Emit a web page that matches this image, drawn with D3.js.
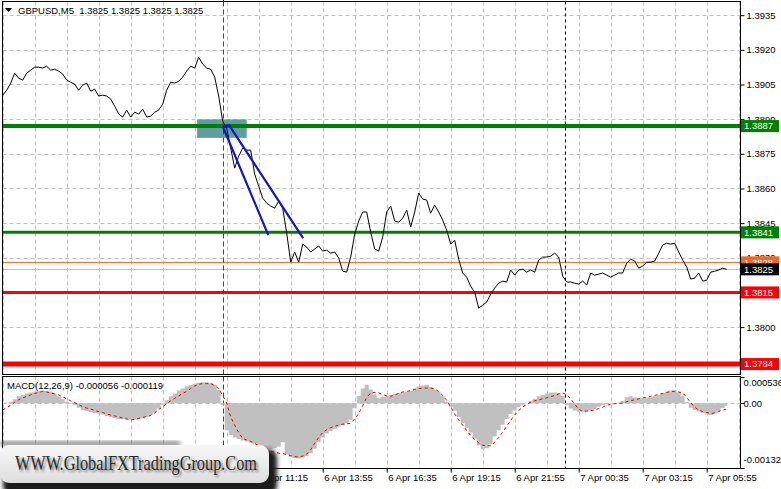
<!DOCTYPE html>
<html><head><meta charset="utf-8">
<script src="https://cdn.jsdelivr.net/npm/d3@7"></script>
<style>
html,body{margin:0;padding:0;background:#fff;}
svg{display:block;font-family:"Liberation Sans",Arial,sans-serif;}
</style></head><body>
<svg id="chart" width="781" height="489"></svg>
<script>
// ---------------- DATA ----------------
const symbolTitle = "GBPUSD,M5";
const lastQuote = [1.3825, 1.3825, 1.3825, 1.3825];
const seriesStart = "2021-04-06T00:35:00Z";
const stepMinutes = 10;
const closes = [
1.39004,1.39025,1.39056,1.39099,1.39077,1.39069,1.39099,1.39112,1.39125,1.39125,
1.39121,1.39129,1.39112,1.39116,1.39108,1.39095,1.39069,1.39060,1.39051,1.39025,
1.39047,1.39056,1.39021,1.39030,1.39000,1.39004,1.39000,1.38987,1.38956,1.38922,
1.38909,1.38939,1.38909,1.38930,1.38922,1.38943,1.38909,1.38913,1.38930,1.38939,
1.38965,1.39025,1.39060,1.39056,1.39064,1.39082,1.39108,1.39129,1.39121,1.39168,
1.39138,1.39121,1.39116,1.39082,1.39000,1.38891,1.38861,1.38775,1.38688,1.38740,
1.38775,1.38766,1.38766,1.38662,1.38610,1.38558,1.38537,1.38524,1.38515,1.38545,
1.38515,1.38407,1.38281,1.38325,1.38281,1.38359,1.38346,1.38325,1.38338,1.38351,
1.38329,1.38333,1.38320,1.38325,1.38299,1.38242,1.38238,1.38303,1.38402,1.38459,
1.38498,1.38498,1.38411,1.38338,1.38329,1.38389,1.38498,1.38524,1.38459,1.38454,
1.38472,1.38506,1.38433,1.38498,1.38580,1.38554,1.38550,1.38493,1.38528,1.38498,
1.38463,1.38420,1.38359,1.38376,1.38294,1.38234,1.38216,1.38177,1.38151,1.38082,
1.38095,1.38108,1.38143,1.38169,1.38190,1.38199,1.38195,1.38247,1.38225,1.38247,
1.38251,1.38238,1.38247,1.38238,1.38290,1.38303,1.38303,1.38307,1.38320,1.38303,
1.38221,1.38195,1.38195,1.38190,1.38186,1.38199,1.38182,1.38234,1.38225,1.38229,
1.38234,1.38225,1.38216,1.38225,1.38234,1.38234,1.38277,1.38294,1.38286,1.38255,
1.38264,1.38281,1.38281,1.38286,1.38320,1.38355,1.38363,1.38359,1.38363,1.38325,
1.38290,1.38260,1.38208,1.38212,1.38234,1.38199,1.38203,1.38238,1.38242,1.38247,
1.38255,1.38250];
// MACD main (histogram) and signal, in units of 0.001
const macdMainMilli = [
0.00,0.01,0.03,0.08,0.14,0.17,0.20,0.22,0.24,0.25,
0.26,0.25,0.24,0.20,0.14,0.08,0.03,-0.01,-0.04,-0.09,
-0.14,-0.16,-0.18,-0.20,-0.21,-0.23,-0.26,-0.28,-0.30,-0.32,
-0.33,-0.34,-0.34,-0.34,-0.33,-0.31,-0.28,-0.24,-0.19,-0.11,
-0.03,0.06,0.14,0.20,0.26,0.30,0.34,0.37,0.40,0.42,
0.43,0.43,0.42,0.38,0.27,-0.03,-0.55,-0.65,-0.70,-0.73,
-0.76,-0.78,-0.81,-0.84,-0.87,-0.90,-0.93,-0.93,-0.92,-0.89,
-0.80,-1.05,-1.10,-1.12,-1.13,-1.11,-1.08,-1.02,-0.93,-0.80,
-0.70,-0.62,-0.57,-0.52,-0.48,-0.45,-0.41,-0.34,-0.10,0.15,
0.30,0.38,0.28,0.18,0.10,0.12,0.14,0.17,0.19,0.21,
0.22,0.23,0.25,0.30,0.34,0.36,0.38,0.33,0.28,0.24,
0.14,0.03,-0.07,-0.15,-0.28,-0.41,-0.50,-0.60,-0.72,-0.86,
-0.94,-0.92,-0.84,-0.68,-0.55,-0.44,-0.32,-0.22,-0.15,-0.08,
-0.03,0.01,0.05,0.09,0.14,0.17,0.20,0.22,0.22,0.21,
0.15,-0.04,-0.11,-0.15,-0.17,-0.17,-0.17,-0.15,-0.12,-0.07,
-0.04,-0.01,0.00,0.00,0.01,0.05,0.12,0.14,0.12,0.10,
0.10,0.11,0.12,0.14,0.17,0.21,0.24,0.26,0.27,0.22,
0.14,0.02,-0.09,-0.14,-0.17,-0.20,-0.23,-0.24,-0.21,-0.17,
-0.10,-0.056];
const macdSignalMilli = [
-0.14,-0.09,-0.04,0.02,0.07,0.11,0.14,0.17,0.20,0.22,
0.24,0.23,0.21,0.19,0.17,0.13,0.09,0.05,0.01,-0.03,
-0.07,-0.10,-0.12,-0.15,-0.17,-0.19,-0.22,-0.24,-0.26,-0.28,
-0.30,-0.32,-0.34,-0.33,-0.31,-0.29,-0.27,-0.25,-0.20,-0.13,
-0.07,-0.01,0.05,0.10,0.15,0.20,0.24,0.30,0.35,0.39,
0.40,0.40,0.40,0.36,0.30,0.16,0.00,-0.28,-0.45,-0.60,
-0.72,-0.75,-0.78,-0.82,-0.87,-0.92,-0.96,-0.98,-1.00,-1.02,
-1.03,-1.05,-1.07,-1.09,-1.10,-1.08,-1.04,-0.95,-0.82,-0.70,
-0.60,-0.54,-0.50,-0.47,-0.45,-0.43,-0.42,-0.41,-0.32,-0.21,
-0.05,0.12,0.21,0.22,0.21,0.18,0.15,0.14,0.17,0.20,
0.23,0.24,0.26,0.28,0.30,0.31,0.31,0.31,0.29,0.24,
0.16,0.06,-0.08,-0.22,-0.34,-0.45,-0.56,-0.66,-0.74,-0.81,
-0.86,-0.87,-0.87,-0.80,-0.70,-0.59,-0.47,-0.35,-0.24,-0.15,
-0.08,-0.02,0.02,0.05,0.07,0.09,0.11,0.13,0.16,0.19,
0.21,0.17,0.09,-0.02,-0.12,-0.17,-0.16,-0.15,-0.14,-0.11,
-0.08,-0.04,-0.02,-0.01,0.00,0.00,0.03,0.05,0.07,0.09,
0.11,0.12,0.14,0.16,0.18,0.20,0.22,0.24,0.24,0.23,
0.21,0.12,0.01,-0.08,-0.14,-0.17,-0.19,-0.21,-0.20,-0.17,
-0.14,-0.119];
const macdLabel = "MACD(12,26,9) -0.000056 -0.000119";
const macdScaleMax = 0.000536;
const macdScaleMin = -0.001324;
const macdTickLabels = ["0.000536", "0.00", "-0.001324"];
const priceMin = 1.37797, priceMax = 1.39407;
const priceTicks = [1.3800,1.3830,1.3845,1.3860,1.3875,1.3890,1.3905,1.3920,1.3935];
const timeTicks = ["2021-04-06T11:15:00Z","2021-04-06T13:55:00Z","2021-04-06T16:35:00Z","2021-04-06T19:15:00Z",
  "2021-04-06T21:55:00Z","2021-04-07T00:35:00Z","2021-04-07T03:15:00Z","2021-04-07T05:55:00Z"];
const gridMinutes = 80;
const levelPrices = [1.3887, 1.3841, 1.3815, 1.3784];
const levelKinds  = ["buyThick", "buyThin", "sellThin", "sellThick"];
const orangePrice = 1.3828;
const bidPrice = 1.3825;
const entryTime = "2021-04-06T09:45:00Z";
const daySeparator = "2021-04-07T00:00:00Z";
const zoneTimes = ["2021-04-06T08:41:00Z", "2021-04-06T10:45:00Z"];
const zonePrices = [1.38819, 1.38899];
const trendTimes = ["2021-04-06T11:39:00Z", "2021-04-06T09:46:00Z", "2021-04-06T10:01:00Z", "2021-04-06T13:06:00Z"];
const trendPrices = [1.38398, 1.38865, 1.38874, 1.38385];
const watermark = "WWW.GlobalFXTradingGroup.Com";

// ---------------- DRAW ----------------
const svg = d3.select("#chart");
const L = 2.5, R = 740.5, mainTop = 1.5, mainBot = 374.5, macdTop = 376.5, macdBot = 468.5;
const t0 = new Date(seriesStart);
const tEnd = new Date(t0.getTime() + 1843.25 * 60000);
const times = closes.map((_, i) => new Date(t0.getTime() + i * stepMinutes * 60000));
const x = d3.scaleUtc().domain([t0, tEnd]).range([2.7, 740]);
const y = d3.scaleLinear().domain([priceMin, priceMax]).range([374, 2]);
const ym = d3.scaleLinear().domain([macdScaleMin, macdScaleMax]).range([468, 377]);
const fmt4 = d3.format(".4f");
const FONT = 9.5;

const defs = svg.append("defs");
defs.append("clipPath").attr("id","clipMain").append("rect").attr("x",L).attr("y",mainTop).attr("width",R-L).attr("height",mainBot-mainTop);
defs.append("clipPath").attr("id","clipMacd").append("rect").attr("x",L).attr("y",macdTop).attr("width",R-L).attr("height",macdBot-macdTop);

svg.append("rect").attr("width",781).attr("height",489).attr("fill","#fff");

const gridTimes = d3.utcMinute.every(1).range(t0, tEnd).filter((d, i) => i % gridMinutes === 0);
const crisp = v => Math.round(v) + 0.5;

const gMain = svg.append("g").attr("clip-path","url(#clipMain)");
const gMacd = svg.append("g").attr("clip-path","url(#clipMacd)");
[[gMain, mainTop, mainBot],[gMacd, macdTop, macdBot]].forEach(([g, a, b]) => {
  g.selectAll(".vg").data(gridTimes).join("line")
    .attr("x1", d => crisp(x(d))).attr("x2", d => crisp(x(d)))
    .attr("y1", a).attr("y2", b)
    .attr("stroke","#c0c0c0").attr("stroke-dasharray","4,3").attr("stroke-width",1);
});
gMain.selectAll(".hg").data(priceTicks.concat([1.3815])).join("line")
  .attr("x1",L).attr("x2",R).attr("y1", d => crisp(y(d))).attr("y2", d => crisp(y(d)))
  .attr("stroke","#c0c0c0").attr("stroke-dasharray","4,3");
gMacd.append("line").attr("x1",L).attr("x2",R).attr("y1",crisp(ym(0))).attr("y2",crisp(ym(0)))
  .attr("stroke","#c0c0c0").attr("stroke-dasharray","4,3");

// entry zone rectangle
gMain.append("rect")
  .attr("x", x(new Date(zoneTimes[0]))).attr("width", x(new Date(zoneTimes[1])) - x(new Date(zoneTimes[0])))
  .attr("y", y(zonePrices[1])).attr("height", y(zonePrices[0]) - y(zonePrices[1]))
  .attr("fill","#5f9ea0");

// levels
const levelStyle = {buyThick:["#008000",4], buyThin:["#008000",3], sellThin:["#ff0000",3], sellThick:["#ff0000",5]};
gMain.append("line").attr("x1",L).attr("x2",R).attr("y1",y(orangePrice)).attr("y2",y(orangePrice))
  .attr("stroke","#f06a2a").attr("stroke-width",1);
gMain.append("line").attr("x1",L).attr("x2",R).attr("y1",crisp(y(bidPrice))).attr("y2",crisp(y(bidPrice)))
  .attr("stroke","#c0c0c0").attr("stroke-width",1);
levelPrices.forEach((p, i) => {
  const [c, w] = levelStyle[levelKinds[i]];
  gMain.append("line").attr("x1",L).attr("x2",R).attr("y1",y(p)).attr("y2",y(p))
    .attr("stroke",c).attr("stroke-width",w);
});

// vertical markers
[[gMain,mainTop,mainBot],[gMacd,macdTop,macdBot]].forEach(([g,a,b]) => {
  g.append("line").attr("x1",crisp(x(new Date(entryTime)))).attr("x2",crisp(x(new Date(entryTime))))
    .attr("y1",a).attr("y2",b).attr("stroke","#e00000").attr("stroke-dasharray","5,3");
  g.append("line").attr("x1",crisp(x(new Date(daySeparator)))).attr("x2",crisp(x(new Date(daySeparator))))
    .attr("y1",a).attr("y2",b).attr("stroke","#000").attr("stroke-dasharray","3,3");
});
svg.append("line").attr("x1",crisp(x(new Date(entryTime)))).attr("x2",crisp(x(new Date(entryTime))))
  .attr("y1",0).attr("y2",mainTop).attr("stroke","#e00000");

// price line
gMain.append("path").datum(closes)
  .attr("d", d3.line().x((d,i) => x(times[i])).y(d => y(d)))
  .attr("fill","none").attr("stroke","#000").attr("stroke-width",1);

// trend lines
gMain.append("path").datum(trendPrices)
  .attr("d", d3.line().x((d,i) => x(new Date(trendTimes[i]))).y(d => y(d)))
  .attr("fill","none").attr("stroke","#1515c8").attr("stroke-width",2.2).attr("stroke-linejoin","round");

// MACD histogram (step area, no gaps between bars)
gMacd.append("path").datum(macdMainMilli)
  .attr("d", d3.area().curve(d3.curveStep).x((d,i) => x(times[i])).y0(ym(0)).y1(d => ym(d/1000)))
  .attr("fill","#c0c0c0");
gMacd.append("path").datum(macdSignalMilli)
  .attr("d", d3.line().x((d,i) => x(times[i])).y(d => ym(d/1000)))
  .attr("fill","none").attr("stroke","#e00000").attr("stroke-width",1).attr("stroke-dasharray","3,3");

// frames
svg.append("rect").attr("x",L).attr("y",mainTop).attr("width",R-L).attr("height",mainBot-mainTop).attr("fill","none").attr("stroke","#000");
svg.append("rect").attr("x",L).attr("y",macdTop).attr("width",R-L).attr("height",macdBot-macdTop).attr("fill","none").attr("stroke","#000");

// price axis
const ax = svg.append("g").attr("transform",`translate(${R},0)`)
  .call(d3.axisRight(y).tickValues(priceTicks).tickFormat(fmt4).tickSize(4).tickPadding(2));
ax.select(".domain").remove();
ax.selectAll("text").attr("font-size",FONT).attr("font-family","Liberation Sans, Arial, sans-serif").attr("fill","#000");
ax.selectAll("line").attr("stroke","#000");

// level labels
function tag(p, bg, fg) {
  const cy = y(p);
  svg.append("rect").attr("x",741).attr("y",cy-6).attr("width",38).attr("height",12).attr("fill",bg);
  svg.append("text").attr("x",744).attr("y",cy).attr("dy","0.35em").attr("font-size",FONT).attr("fill",fg).text(fmt4(p));
}
levelPrices.forEach((p,i) => tag(p, levelStyle[levelKinds[i]][0], "#fff"));
tag(orangePrice, "#f5651e", "#fff");
tag(bidPrice, "#000", "#fff");

// MACD axis
const macdVals = [macdScaleMax, 0, macdScaleMin];
const macdOffsets = [6, 0, -8];
macdVals.forEach((v,i) => {
  svg.append("line").attr("x1",R).attr("x2",R+4).attr("y1",crisp(ym(v))).attr("y2",crisp(ym(v))).attr("stroke","#000");
  svg.append("text").attr("x",R+3).attr("y",ym(v)+macdOffsets[i]).attr("dy","0.35em").attr("font-size",FONT).attr("fill","#000").text(macdTickLabels[i]);
});

// time axis
const tx = svg.append("g").attr("transform",`translate(0,${macdBot})`)
  .call(d3.axisBottom(x).tickValues(timeTicks.map(s => new Date(s))).tickFormat(d3.utcFormat("%-d %b %H:%M")).tickSize(4).tickPadding(2));
tx.select(".domain").remove();
tx.selectAll("text").attr("text-anchor","start").attr("dx",1).attr("font-size",FONT).attr("font-family","Liberation Sans, Arial, sans-serif").attr("fill","#000");
tx.selectAll("line").attr("stroke","#000");

// titles
svg.append("path").attr("d","M5,8 L12,8 L8.5,12 Z").attr("fill","#000");
svg.append("text").attr("x",18).attr("y",14).attr("font-size",FONT).attr("fill","#000").style("white-space","pre")
  .text(symbolTitle + "  " + lastQuote.map(fmt4).join(" "));
svg.append("text").attr("x",7).attr("y",389).attr("font-size",FONT).attr("fill","#000").text(macdLabel);

// watermark
const grad = defs.append("linearGradient").attr("id","wmGrad").attr("x1",0).attr("y1",0).attr("x2",0).attr("y2",1);
grad.append("stop").attr("offset","0%").attr("stop-color","#f7f7f7");
grad.append("stop").attr("offset","100%").attr("stop-color","#dedede");
const f = defs.append("filter").attr("id","wmBlur").attr("x","-20%").attr("y","-50%").attr("width","140%").attr("height","200%");
f.append("feGaussianBlur").attr("stdDeviation",2);
const f2 = defs.append("filter").attr("id","txtBlur").attr("x","-10%").attr("y","-50%").attr("width","120%").attr("height","200%");
f2.append("feGaussianBlur").attr("stdDeviation",1.2);
svg.append("rect").attr("x",0).attr("y",442).attr("width",180).attr("height",3).attr("fill","#555").attr("filter","url(#wmBlur)");
svg.append("rect").attr("x",3).attr("y",449).attr("width",274).attr("height",46).attr("rx",9).attr("fill","#1a1a1a").attr("filter","url(#wmBlur)");
svg.append("rect").attr("x",0).attr("y",445).attr("width",269).attr("height",38).attr("rx",9).attr("fill","url(#wmGrad)");
svg.append("text").attr("x",17).attr("y",472).attr("font-family","Liberation Serif, Times New Roman, serif").attr("font-size",21.5)
  .attr("textLength",242).attr("lengthAdjust","spacingAndGlyphs").attr("fill","#777").attr("filter","url(#txtBlur)").text(watermark);
svg.append("text").attr("x",15).attr("y",470).attr("font-family","Liberation Serif, Times New Roman, serif").attr("font-size",21.5)
  .attr("textLength",242).attr("lengthAdjust","spacingAndGlyphs").attr("fill","#2b2b2b").text(watermark);
</script>
</body></html>
